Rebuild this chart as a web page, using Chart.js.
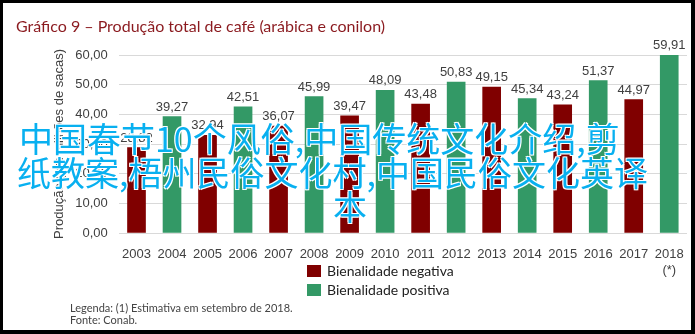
<!DOCTYPE html>
<html>
<head>
<meta charset="utf-8">
<script src="https://cdn.jsdelivr.net/npm/chart.js@4/dist/chart.umd.min.js"></script>
<style>
  html, body { margin: 0; padding: 0; background: #fff; }
  #frame {
    position: relative; width: 695px; height: 334px; box-sizing: border-box;
    border: 3px solid #000; border-right-width: 4px; border-bottom-width: 4px;
    overflow: hidden; background: #fff;
  }
  #chart { position: absolute; left: -3px; top: -3px; width: 695px; height: 334px; }
  .title {
    position: absolute; left: 13px; top: 13px; font-family: Lato, sans-serif;
    font-size: 16px; color: #8b1a1f; white-space: nowrap;
  }
  .legend { position: absolute; left: 304px; top: 258px; font-family: Lato, sans-serif; font-size: 14px; color: #222; }
  .legend div { height: 19px; line-height: 19px; white-space: nowrap; }
  .legend span { display: inline-block; width: 14px; height: 12px; margin-right: 6px; vertical-align: -1px; }
  .note { position: absolute; left: 67px; top: 299px; font-family: Lato, sans-serif; font-size: 11px; color: #444; line-height: 12px; }
  .wm {
    position: absolute; font-family: "Noto Sans CJK SC", sans-serif; font-size: 34px; line-height: 34px;
    color: #08b0f0; white-space: nowrap;
    text-shadow: 1px 1px 0 #fff, -1px -1px 0 #fff, 1px -1px 0 #fff, -1px 1px 0 #fff;
  }
</style>
</head>
<body>
<div id="frame">
  <canvas id="chart" width="695" height="334"></canvas>
  <div class="title">Gráfico 9 – Produção total de café (arábica e conilon)</div>
  <div class="legend" id="legend"></div>
  <div class="note">Legenda: (1) Estimativa em setembro de 2018.<br>Fonte: Conab.</div>
  <div class="wm" style="left:16px; top:118px;">中国春节10个风俗,中国传统文化介绍,剪</div>
  <div class="wm" style="left:14px; top:152px;">纸教案,梧州民俗文化村,中国民俗文化英译</div>
  <div class="wm" style="left:330px; top:186px;">本</div>
</div>
<script>
// Production per harvest year, million bags
const years = ['2003', '2004', '2005', '2006', '2007', '2008', '2009', '2010',
               '2011', '2012', '2013', '2014', '2015', '2016', '2017', '2018'];
const yearNotes = ['', '', '', '', '', '', '', '', '', '', '', '', '', '', '', '(*)'];
const negativa = [28.82, null, 32.94, null, 36.07, null, 39.47, null,
                  43.48, null, 49.15, null, 43.24, null, 44.97, null];
const positiva = [null, 39.27, null, 42.51, null, 45.99, null, 48.09,
                  null, 50.83, null, 45.34, null, 51.37, null, 59.91];
const seriesNames = ['Bienalidade negativa', 'Bienalidade positiva'];
const seriesColors = ['#800000', '#339966'];

const fmt = v => v.toFixed(2).replace('.', ',');

// value labels above each bar
const valueLabels = {
    id: 'valueLabels',
    afterDatasetsDraw(chart) {
        const { ctx } = chart;
        ctx.save();
        ctx.font = '13px "Liberation Sans", Arial, sans-serif';
        ctx.fillStyle = '#404040';
        ctx.textAlign = 'center';
        ctx.textBaseline = 'bottom';
        chart.data.datasets.forEach((ds, i) => {
            chart.getDatasetMeta(i).data.forEach((bar, j) => {
                const v = ds.data[j];
                if (v == null) return;
                ctx.fillText(fmt(v), bar.x, bar.y - 3);
            });
        });
        ctx.restore();
    },
};

const axisFont = { family: "'Liberation Sans', Arial, sans-serif", size: 13 };

new Chart(document.getElementById('chart'), {
    type: 'bar',
    data: {
        labels: years,
        datasets: [
            { label: seriesNames[0], data: negativa, backgroundColor: seriesColors[0] },
            { label: seriesNames[1], data: positiva, backgroundColor: seriesColors[1] },
        ],
    },
    options: {
        responsive: false,
        animation: false,
        layout: { padding: { left: 45, right: 8, top: 55, bottom: 44 } },
        datasets: { bar: { barThickness: 18 } },
        plugins: { legend: { display: false }, tooltip: { enabled: false } },
        scales: {
            x: {
                stacked: true,
                grid: { display: false },
                border: { display: false },
                ticks: {
                    color: '#404040', font: axisFont, padding: 6, maxRotation: 0, autoSkip: false,
                    callback: (v, i) => yearNotes[i] ? [years[i], yearNotes[i]] : years[i],
                },
                afterFit: s => { s.height = 57; },
            },
            y: {
                stacked: true,
                min: 0, max: 60,
                grid: { color: '#d9d9d9', drawTicks: false },
                border: { display: false },
                ticks: { stepSize: 5, color: '#404040', font: axisFont, padding: 11, callback: v => fmt(v) },
                title: {
                    display: true, text: 'Produção (em milhões de sacas)',
                    color: '#404040', font: axisFont, padding: { top: 7, bottom: 0 },
                },
                afterFit: s => { s.width = 73.75; },
            },
        },
    },
    plugins: [valueLabels],
});

document.getElementById('legend').innerHTML = seriesNames
    .map((n, i) => `<div><span style="background:${seriesColors[i]}"></span>${n}</div>`)
    .join('');
</script>
</body>
</html>
